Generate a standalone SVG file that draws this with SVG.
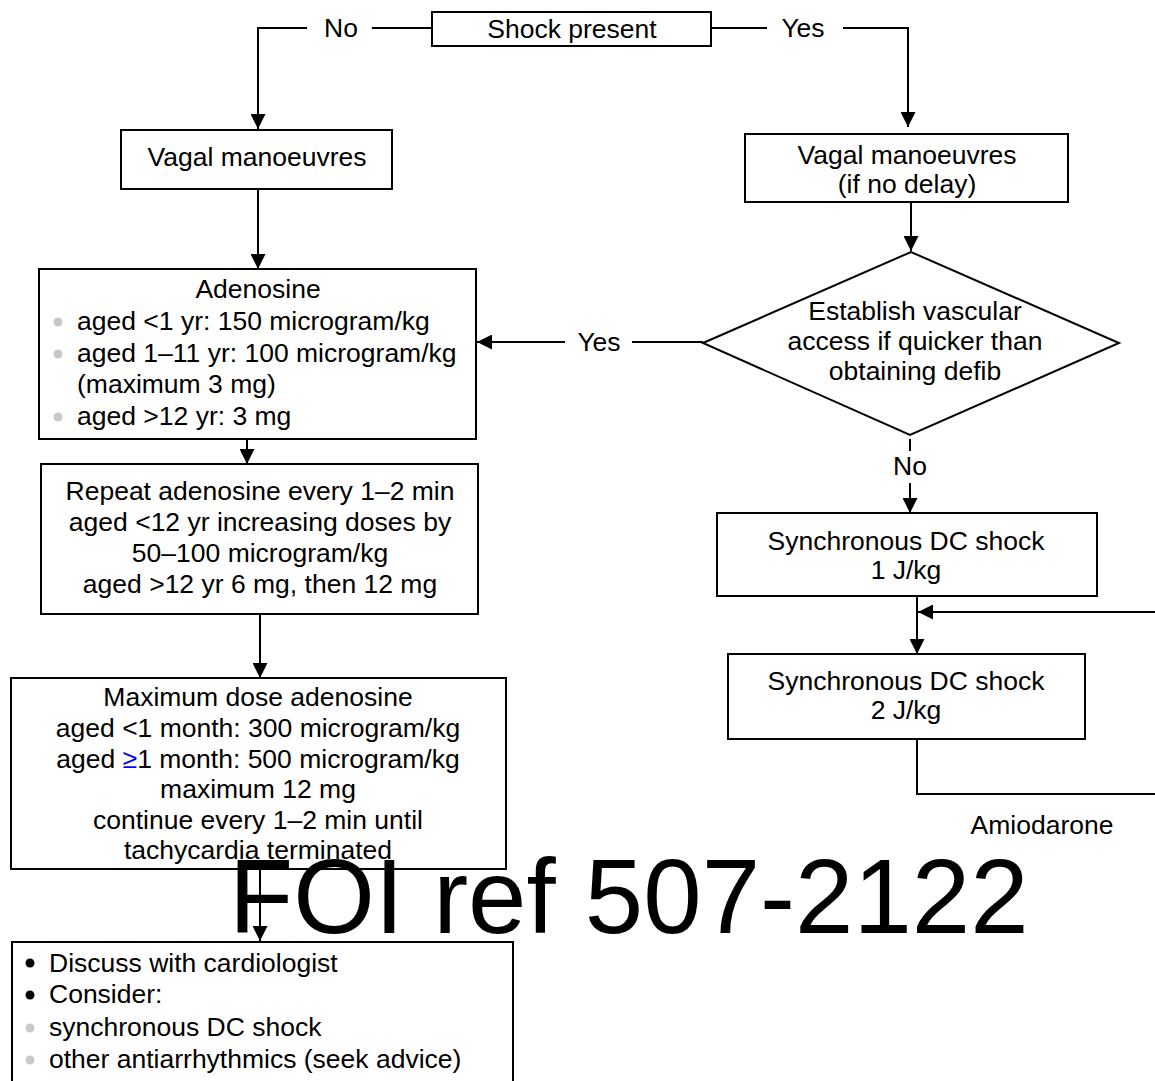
<svg xmlns="http://www.w3.org/2000/svg" width="1155" height="1081" viewBox="0 0 1155 1081">
  <style>
    .box { fill: #fff; stroke: #000; stroke-width: 2; }
    .t { font-family: "Liberation Sans", Arial, sans-serif; font-size: 26.5px; fill: #000; }
    .c { text-anchor: middle; }
    .wire { fill: none; stroke: #000; stroke-width: 2; }
    .arrow { marker-end: url(#head); }
    .dot { fill: #c8c8c8; }
    .bdot { fill: #000; }
    .mark { font-family: "Liberation Sans", Arial, sans-serif; font-size: 105px; fill: #000; }
  </style>
  <defs>
    <marker id="head" markerWidth="15" markerHeight="15" refX="15" refY="7.5" orient="auto" markerUnits="userSpaceOnUse">
      <path d="M0,0 L15,7.5 L0,15 z" fill="#000"/>
    </marker>
  </defs>
  <rect width="1155" height="1081" fill="#fff"/>

  <!-- connectors -->
  <g id="connectors">
    <path class="wire" d="M432,28 H372"/>
    <path class="wire arrow" d="M307,28 H258 V129"/>
    <path class="wire" d="M711,28 H767"/>
    <path class="wire arrow" d="M843,28 H908 V127"/>
    <path class="wire arrow" d="M258,189 V269"/>
    <path class="wire arrow" d="M247,439 V464"/>
    <path class="wire arrow" d="M260,614 V678"/>
    <path class="wire arrow" d="M260,869 V941"/>
    <path class="wire arrow" d="M911,202 V251"/>
    <path class="wire" d="M703,342 H632"/>
    <path class="wire arrow" d="M565,342 H477"/>
    <path class="wire" d="M910,439 V451"/>
    <path class="wire arrow" d="M910,483 V513"/>
    <path class="wire arrow" d="M917,596 V654"/>
    <path class="wire" d="M917,737 V794 H1156"/>
    <path class="wire arrow" d="M1156,612 H918"/>
    <text class="t c" x="341" y="37">No</text>
    <text class="t c" x="803" y="37">Yes</text>
    <text class="t c" x="599" y="351">Yes</text>
    <text class="t c" x="910" y="475">No</text>
    <text class="t c" x="1042" y="834">Amiodarone</text>
  </g>

  <g id="shock-present">
    <rect class="box" x="432" y="12" width="279" height="34"/>
    <text class="t c" x="572" y="38">Shock present</text>
  </g>

  <g id="vagal-left">
    <rect class="box" x="121" y="130" width="271" height="59"/>
    <text class="t c" x="257" y="166">Vagal manoeuvres</text>
  </g>

  <g id="adenosine">
    <rect class="box" x="39" y="269" width="437" height="170"/>
    <text class="t c" x="258" y="298">Adenosine</text>
    <circle class="dot" cx="58" cy="322" r="4.5"/>
    <text class="t" x="77" y="330">aged &lt;1 yr: 150 microgram/kg</text>
    <circle class="dot" cx="58" cy="354" r="4.5"/>
    <text class="t" x="77" y="362">aged 1–11 yr: 100 microgram/kg</text>
    <text class="t" x="77" y="393">(maximum 3 mg)</text>
    <circle class="dot" cx="58" cy="417" r="4.5"/>
    <text class="t" x="77" y="425">aged &gt;12 yr: 3 mg</text>
  </g>

  <g id="repeat-adenosine">
    <rect class="box" x="41" y="464" width="437" height="150"/>
    <text class="t c" x="260" y="500">Repeat adenosine every 1–2 min</text>
    <text class="t c" x="260" y="531">aged &lt;12 yr increasing doses by</text>
    <text class="t c" x="260" y="562">50–100 microgram/kg</text>
    <text class="t c" x="260" y="593">aged &gt;12 yr 6 mg, then 12 mg</text>
  </g>

  <g id="maximum-dose">
    <rect class="box" x="11" y="678" width="495" height="191"/>
    <text class="t c" x="258" y="706">Maximum dose adenosine</text>
    <text class="t c" x="258" y="737">aged &lt;1 month: 300 microgram/kg</text>
    <text class="t c" x="258" y="768">aged <tspan fill="#0000ff">≥</tspan>1 month: 500 microgram/kg</text>
    <text class="t c" x="258" y="798">maximum 12 mg</text>
    <text class="t c" x="258" y="829">continue every 1–2 min until</text>
    <text class="t c" x="258" y="859">tachycardia terminated</text>
  </g>

  <g id="cardiology">
    <rect class="box" x="12" y="942" width="501" height="150"/>
    <circle class="bdot" cx="30" cy="963" r="4.5"/>
    <text class="t" x="49" y="972">Discuss with cardiologist</text>
    <circle class="bdot" cx="30" cy="995" r="4.5"/>
    <text class="t" x="49" y="1003">Consider:</text>
    <circle class="dot" cx="30" cy="1028" r="4.5"/>
    <text class="t" x="49" y="1036">synchronous DC shock</text>
    <circle class="dot" cx="30" cy="1060" r="4.5"/>
    <text class="t" x="49" y="1068">other antiarrhythmics (seek advice)</text>
  </g>

  <g id="vagal-right">
    <rect class="box" x="745" y="134" width="323" height="68"/>
    <text class="t c" x="907" y="164">Vagal manoeuvres</text>
    <text class="t c" x="907" y="193">(if no delay)</text>
  </g>

  <g id="vascular-access">
    <polygon class="box" points="703,343 911,252 1119,343 910,435"/>
    <text class="t c" x="915" y="320">Establish vascular</text>
    <text class="t c" x="915" y="350">access if quicker than</text>
    <text class="t c" x="915" y="380">obtaining defib</text>
  </g>

  <g id="dc-shock-1">
    <rect class="box" x="717" y="513" width="380" height="83"/>
    <text class="t c" x="906" y="550">Synchronous DC shock</text>
    <text class="t c" x="906" y="579">1 J/kg</text>
  </g>

  <g id="dc-shock-2">
    <rect class="box" x="728" y="654" width="357" height="85"/>
    <text class="t c" x="906" y="690">Synchronous DC shock</text>
    <text class="t c" x="906" y="719">2 J/kg</text>
  </g>

  <text class="mark" x="229" y="933">FOI ref 507-2122</text>
</svg>
